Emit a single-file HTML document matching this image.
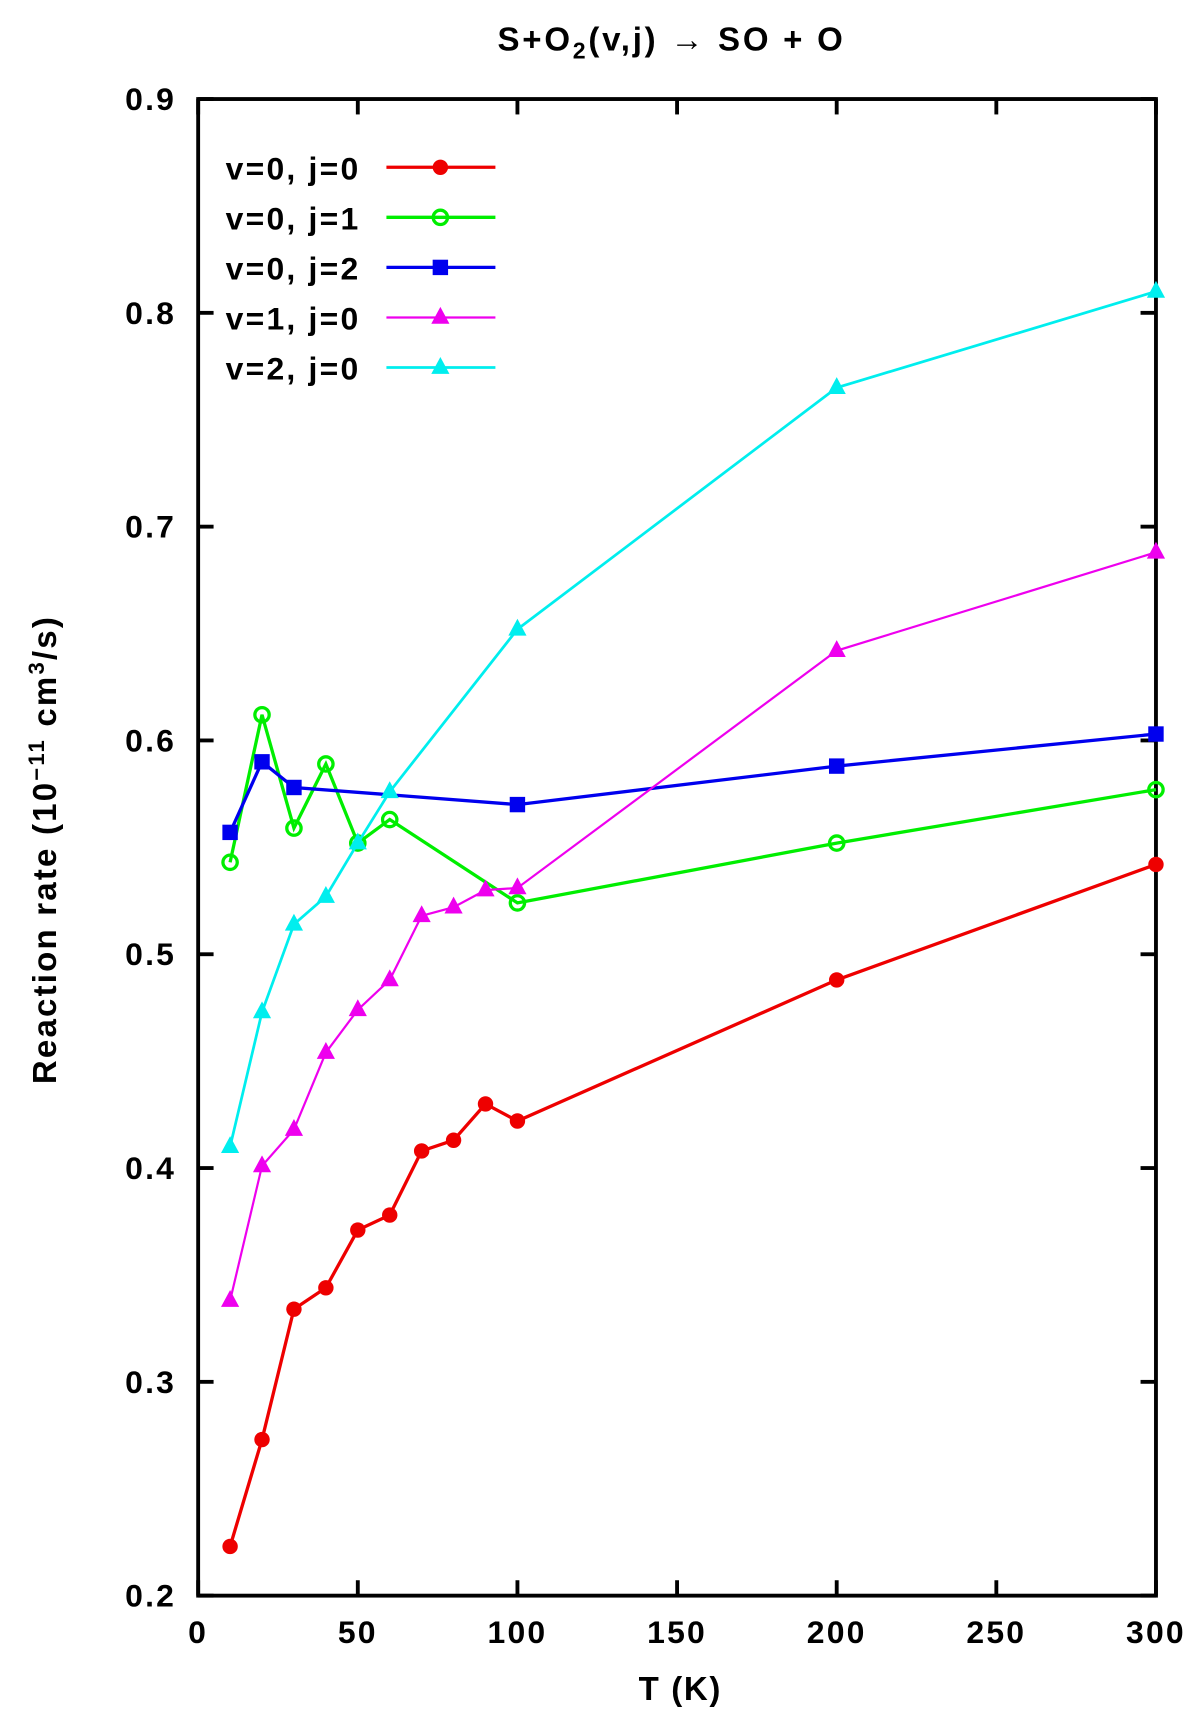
<!DOCTYPE html>
<html><head><meta charset="utf-8"><style>
body{margin:0;background:#fff}
svg text{font-family:"Liberation Sans",sans-serif;font-weight:bold;fill:#000}
</style></head><body>
<svg id="chart" width="1200" height="1731" viewBox="0 0 1090 1573" preserveAspectRatio="none" xmlns="http://www.w3.org/2000/svg">
<text x="610" y="46" font-size="30" letter-spacing="2.5" text-anchor="middle">S+O<tspan font-size="21" dy="7">2</tspan><tspan dy="-7">(v,j) → SO + O</tspan></text>
<text x="618" y="1545" font-size="30" letter-spacing="1.5" text-anchor="middle">T (K)</text>
<text transform="translate(51,772) rotate(-90)" font-size="30" letter-spacing="2" text-anchor="middle">Reaction rate (10<tspan font-size="20" dy="-11">−11</tspan><tspan dy="11"> cm</tspan><tspan font-size="20" dy="-11">3</tspan><tspan dy="11">/s)</tspan></text>
<g id="axes"></g><g id="series"></g><g id="legend"></g>
</svg>
<script>
const xTicks=[0,50,100,150,200,250,300];
const yTicks=[0.2,0.3,0.4,0.5,0.6,0.7,0.8,0.9];
const yTickLabels=["0.2","0.3","0.4","0.5","0.6","0.7","0.8","0.9"];
const seriesNames=["v=0, j=0","v=0, j=1","v=0, j=2","v=1, j=0","v=2, j=0"];
const tRed=[10,20,30,40,50,60,70,80,90,100,200,300];
const vRed=[0.223,0.273,0.334,0.344,0.371,0.378,0.408,0.413,0.430,0.422,0.488,0.542];
const tGreen=[10,20,30,40,50,60,100,200,300];
const vGreen=[0.543,0.612,0.559,0.589,0.552,0.563,0.524,0.552,0.577];
const tBlue=[10,20,30,100,200,300];
const vBlue=[0.557,0.590,0.578,0.570,0.588,0.603];
const tMag=[10,20,30,40,50,60,70,80,90,100,200,300];
const vMag=[0.338,0.401,0.418,0.454,0.474,0.488,0.518,0.522,0.530,0.531,0.642,0.688];
const tCyan=[10,20,30,40,50,60,100,200,300];
const vCyan=[0.410,0.473,0.514,0.527,0.552,0.576,0.652,0.765,0.810];
const L=180,R=1050,T=90,B=1450;
const X=v=>L+(v-0)/300*(R-L);
const Y=v=>B-(v-0.2)/0.7*(B-T);
const NS="http://www.w3.org/2000/svg";
function mk(tag,attrs,parent){const e=document.createElementNS(NS,tag);for(const k in attrs)e.setAttribute(k,attrs[k]);parent.appendChild(e);return e;}
const axes=document.getElementById('axes');
const frame=mk('rect',{x:L,y:T,width:R-L,height:B-T,fill:'none',stroke:'#000','stroke-width':3.5},axes);


xTicks.forEach(t=>{
 const g=mk('g',{},axes);
 
 
 mk('line',{x1:X(t),x2:X(t),y1:B,y2:B-14,stroke:'#000','stroke-width':3.5},g);
 mk('line',{x1:X(t),x2:X(t),y1:T,y2:T+14,stroke:'#000','stroke-width':3.5},g);
 const tx=mk('text',{x:X(t),y:B+43,'font-size':29,'letter-spacing':2,'text-anchor':'middle'},g);tx.textContent=t;
});
yTicks.forEach((t,i)=>{
 const g=mk('g',{},axes);
 
 
 mk('line',{x1:L,x2:L+14,y1:Y(t),y2:Y(t),stroke:'#000','stroke-width':3.5},g);
 mk('line',{x1:R,x2:R-14,y1:Y(t),y2:Y(t),stroke:'#000','stroke-width':3.5},g);
 const tx=mk('text',{x:160,y:Y(t)+10,'font-size':29,'letter-spacing':2,'text-anchor':'end'},g);tx.textContent=yTickLabels[i];
});
const colors=['#ee0000','#00ee00','#0000ee','#ee00ee','#00eeee'];
const markers=['dot','circle','square','tri','tri'];
const all=[[tRed,vRed],[tGreen,vGreen],[tBlue,vBlue],[tMag,vMag],[tCyan,vCyan]];
const widths=[3,3,3,2,2.5];
function marker(type,x,y,c,p){
 if(type==='dot')return mk('circle',{cx:x,cy:y,r:7,fill:c},p);
 if(type==='circle')return mk('circle',{cx:x,cy:y,r:6.5,fill:'none',stroke:c,'stroke-width':3},p);
 if(type==='square')return mk('rect',{x:x-7,y:y-7,width:14,height:14,fill:c},p);
 return mk('polygon',{points:`${x},${y-8} ${x-7},${y+5} ${x+7},${y+5}`,fill:c,stroke:c,'stroke-width':1.5},p);
}
const sg=document.getElementById('series');
all.forEach((s,i)=>{
 const g=mk('g',{},sg);
 
 
 mk('polyline',{points:s[0].map((t,k)=>X(t)+','+Y(s[1][k])).join(' '),fill:'none',stroke:colors[i],'stroke-width':widths[i]},g);
 s[0].forEach((t,k)=>{const m=marker(markers[i],X(t),Y(s[1][k]),colors[i],g);
  
  });
});
const lg=document.getElementById('legend');
seriesNames.forEach((n,i)=>{
 const y=152+i*45.5;
 const g=mk('g',{},lg);
 
 
 const tx=mk('text',{x:205,y:y+11,'font-size':29,'letter-spacing':2},g);tx.textContent=n;
 mk('line',{x1:351,x2:450,y1:y,y2:y,stroke:colors[i],'stroke-width':widths[i]},g);
 marker(markers[i],400,y,colors[i],g);
});
</script>
</body></html>
